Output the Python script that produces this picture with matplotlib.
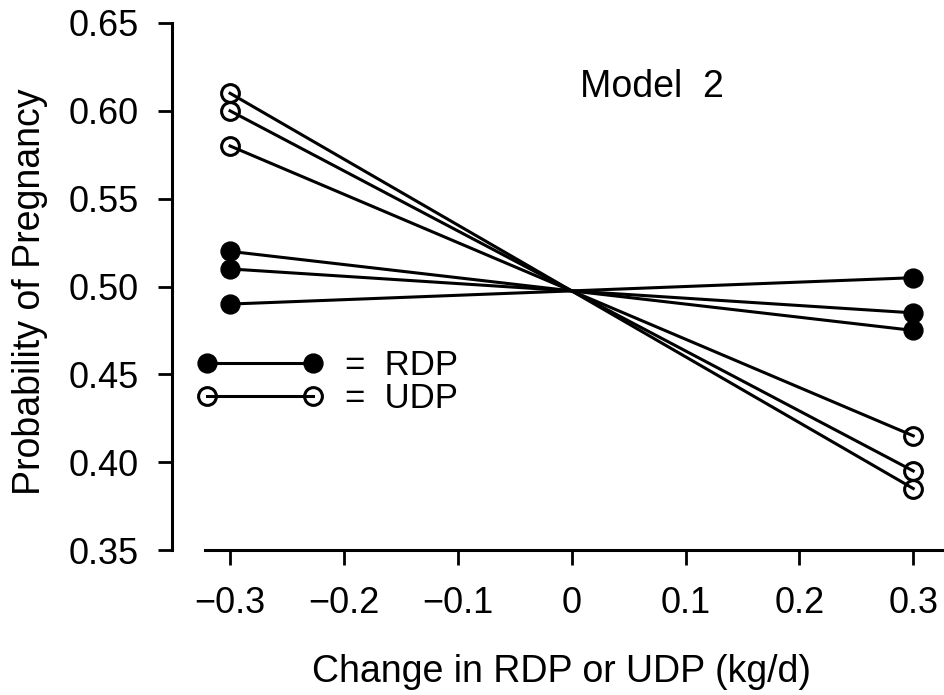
import matplotlib
matplotlib.use("Agg")
import matplotlib.pyplot as plt
from matplotlib.lines import Line2D

# valeurs (probabilite aux deux extremites)
x_ends = [-0.3, 0.3]
rdp_left = [0.52, 0.51, 0.49]
rdp_right = [0.475, 0.485, 0.505]
udp_left = [0.61, 0.60, 0.58]
udp_right = [0.385, 0.395, 0.415]

x_ticks = [-0.3, -0.2, -0.1, 0, 0.1, 0.2, 0.3]
x_tick_labels = ["\u22120.3", "\u22120.2", "\u22120.1", "0", "0.1", "0.2", "0.3"]
y_ticks = [0.35, 0.40, 0.45, 0.50, 0.55, 0.60, 0.65]
y_tick_labels = ["0.35", "0.40", "0.45", "0.50", "0.55", "0.60", "0.65"]

plt.rcParams["font.family"] = ["Liberation Sans", "DejaVu Sans"]

fig = plt.figure(figsize=(9.44, 6.95), dpi=100)
ax = fig.add_axes([172 / 944, 1 - 550 / 695, 772 / 944, 527 / 695])

# lignes RDP (cercles pleins)
for a, b in zip(rdp_left, rdp_right):
    ax.plot(x_ends, [a, b], color="black", lw=2.2, marker="o", ms=13.6,
            mfc="black", mec="black", clip_on=False)

# lignes UDP (cercles vides)
for a, b in zip(udp_left, udp_right):
    ax.plot(x_ends, [a, b], color="black", lw=2.2, marker="o", ms=12.8,
            mfc="none", mec="black", mew=2.2, clip_on=False)

ax.set_xlim(-0.351, 0.327)
ax.set_ylim(0.35, 0.65)

ax.spines["top"].set_visible(False)
ax.spines["right"].set_visible(False)
ax.spines["left"].set_linewidth(2.2)
ax.spines["bottom"].set_linewidth(2.2)
ax.spines["left"].set_bounds(0.35, 0.65)
ax.spines["bottom"].set_bounds(-0.322, 0.327)

ax.set_xticks(x_ticks)
ax.set_xticklabels(x_tick_labels)
ax.set_yticks(y_ticks)
ax.set_yticklabels(y_tick_labels)
ax.tick_params(axis="both", direction="out", width=2, labelsize=26, color="black")
ax.tick_params(axis="y", length=10, pad=14)
ax.tick_params(axis="x", length=11, pad=15)

# titres des axes
fig.text(40 / 944, 1 - 292 / 695, "Probability of Pregnancy", rotation=90,
         rotation_mode="anchor", ha="center", va="baseline", fontsize=27)
fig.text(561 / 944, 1 - 682 / 695, "Change in RDP or UDP (kg/d)",
         ha="center", va="baseline", fontsize=27)

ax.text(0.007, 0.608, "Model  2", ha="left", va="baseline", fontsize=27)

# legende
handles = [
    Line2D([], [], color="black", lw=2.2, marker="o", ms=13.6, mfc="black", mec="black"),
    Line2D([], [], color="black", lw=2.2, marker="o", ms=12.8, mfc="none", mec="black", mew=2.2),
]
ax.legend(handles, ["=  RDP", "=  UDP"], loc="center left",
          bbox_to_anchor=(0.0324, 0.319), frameon=False, numpoints=2,
          handlelength=3.65, handletextpad=0.62, labelspacing=0.0,
          borderpad=0, borderaxespad=0, fontsize=25)

fig.savefig("out.png", dpi=100)
